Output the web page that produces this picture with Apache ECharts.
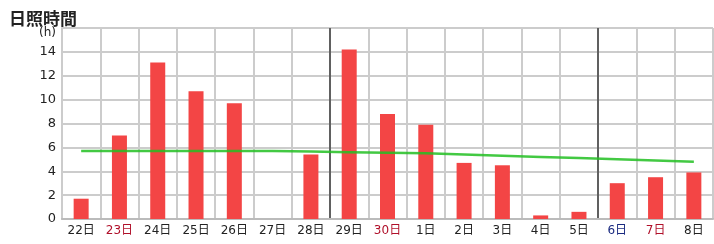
<!DOCTYPE html>
<html>
<head>
<meta charset="utf-8">
<script src="https://cdn.jsdelivr.net/npm/echarts@6/dist/echarts.min.js"></script>
<style>
  html, body { margin: 0; padding: 0; background: #fff; }
  #chart { width: 714px; height: 244px; }
</style>
</head>
<body>
<div id="chart"></div>
<script>
// days shown on the x axis
const days = ['22', '23', '24', '25', '26', '27', '28', '29', '30', '1', '2', '3', '4', '5', '6', '7', '8']
// label colour key: r = holiday (red), b = saturday (blue), n = normal
const dayKinds = ['n', 'r', 'n', 'n', 'n', 'n', 'n', 'n', 'r', 'n', 'n', 'n', 'n', 'n', 'b', 'r', 'n']
// sunshine hours per day
const sunshine = [1.7, 7.0, 13.1, 10.7, 9.7, 0, 5.4, 14.2, 8.8, 7.9, 4.7, 4.5, 0.3, 0.6, 3.0, 3.5, 3.9]
// normal values
const normal = [5.7, 5.7, 5.7, 5.7, 5.7, 5.7, 5.65, 5.6, 5.55, 5.5, 5.4, 5.3, 5.2, 5.1, 5.0, 4.9, 4.8]

// split line colours, darker at week boundaries
const splitColors = days.map((d, i) => (i === 7 || i === 14) ? '#606060' : '#cccccc')
splitColors.push('#cccccc')

const chart = echarts.init(document.getElementById('chart'), null, { renderer: 'canvas' })

const option = {
  animation: false,
  backgroundColor: '#fff',
  textStyle: { fontFamily: '"DejaVu Sans", "Noto Sans CJK JP", sans-serif' },
  title: {
    text: '日照時間',
    left: 4,
    top: 5,
    textStyle: {
      fontFamily: '"Noto Sans CJK JP", sans-serif',
      fontSize: 17,
      fontWeight: 'bold',
      color: '#222'
    }
  },
  grid: { left: 62, right: 1, top: 28, bottom: 25 },
  xAxis: {
    type: 'category',
    data: days,
    boundaryGap: true,
    axisLine: { lineStyle: { color: '#bbbbbb', width: 2 } },
    axisTick: { show: false },
    splitLine: { show: true, interval: 0, lineStyle: { color: splitColors, width: 2 } },
    axisLabel: {
      interval: 0,
      margin: 6,
      fontSize: 12,
      formatter: function (v, i) {
        const k = dayKinds[i]
        return '{' + k + '|' + v + '日}'
      },
      rich: {
        n: { color: '#222', fontSize: 12 },
        r: { color: '#b0102a', fontSize: 12 },
        b: { color: '#1a2a80', fontSize: 12 }
      }
    }
  },
  yAxis: {
    type: 'value',
    min: 0,
    max: 16,
    interval: 2,
    axisLine: { show: true, lineStyle: { color: '#cccccc', width: 2 } },
    axisTick: { show: false },
    splitLine: { lineStyle: { color: '#cccccc', width: 2 } },
    axisLabel: {
      margin: 6,
      fontSize: 13,
      color: '#222',
      formatter: function (v) {
        return v === 16 ? '{h|(h)}' : String(v)
      },
      rich: {
        h: { fontSize: 12, color: '#222', padding: [10, 0, 0, 0] }
      }
    }
  },
  series: [
    {
      name: '日照時間',
      type: 'bar',
      data: sunshine,
      barWidth: 15,
      itemStyle: { color: '#f34545' }
    },
    {
      name: '平年値',
      type: 'line',
      data: normal,
      symbol: 'none',
      z: 5,
      lineStyle: { color: '#22c022', width: 2.5, opacity: 0.85 }
    }
  ]
}

chart.setOption(option)
</script>
</body>
</html>
